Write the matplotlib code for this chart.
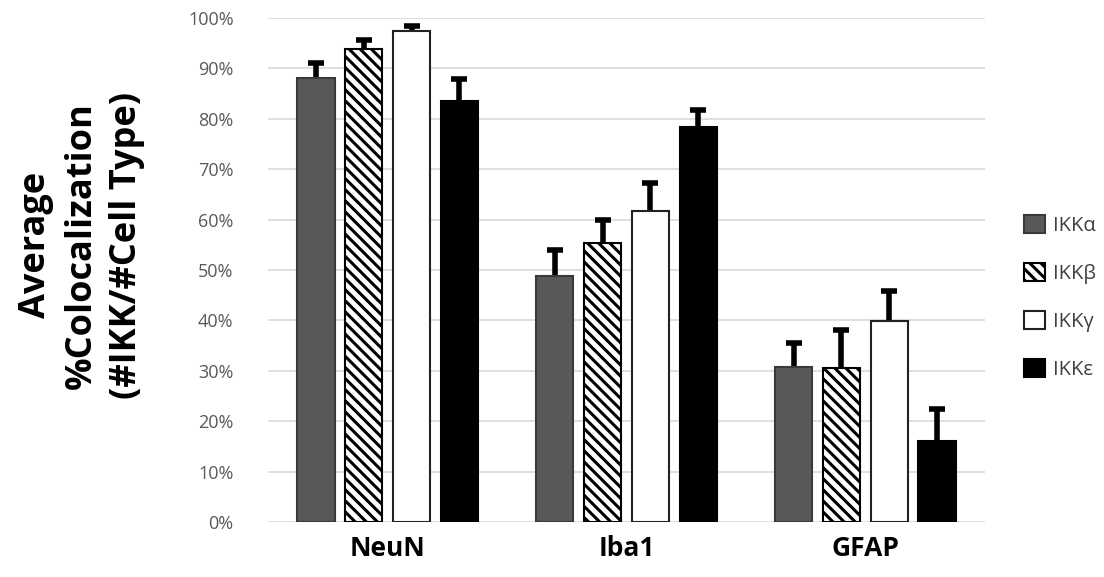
import matplotlib.pyplot as plt
import numpy as np

plt.rcParams['hatch.linewidth'] = 2.2

cell_types = ["NeuN", "Iba1", "GFAP"]
series = ["IKKα", "IKKβ", "IKKγ", "IKKε"]
alpha = [0.881, 0.488, 0.308]
beta = [0.938, 0.554, 0.306]
gamma = [0.974, 0.617, 0.399]
eps = [0.835, 0.784, 0.161]
alpha_err = [0.029, 0.052, 0.047]
beta_err = [0.018, 0.046, 0.075]
gamma_err = [0.010, 0.056, 0.059]
eps_err = [0.044, 0.033, 0.063]

fig = plt.figure(figsize=(11.04, 5.77), dpi=100)
ax = fig.add_axes([0.243, 0.0953, 0.649, 0.8737])

x = np.arange(len(cell_types))
w = 0.156
offsets = [-0.3, -0.1, 0.1, 0.3]
styles = [
    dict(color="#595959", edgecolor="#3a3a3a", hatch=None),
    dict(color="white", edgecolor="black", hatch="\\\\\\"),
    dict(color="white", edgecolor="#222222", hatch=None),
    dict(color="black", edgecolor="black", hatch=None),
]
vals = [alpha, beta, gamma, eps]
errs = [alpha_err, beta_err, gamma_err, eps_err]

for v, e, off, st, lab in zip(vals, errs, offsets, styles, series):
    ax.bar(x + off, v, w, color=st["color"], edgecolor=st["edgecolor"],
           hatch=st["hatch"], linewidth=1.5, label=lab, zorder=3)
    eb = ax.errorbar(x + off, v, yerr=[np.zeros(len(v)), e], fmt="none",
                     ecolor="black", elinewidth=4, capsize=6, capthick=4, zorder=2)
    # only the upper cap
    eb[1][0].set_visible(False)

ax.set_xlim(-0.5, 2.5)
ax.set_ylim(0, 1.0)
ticks = np.arange(0, 1.01, 0.1)
ax.set_yticks(ticks)
ax.set_yticklabels([f"{int(round(t*100))}%" for t in ticks],
                   fontsize=13, color="#595959", family="Open Sans")
ax.set_xticks(x)
ax.set_xticklabels(cell_types, fontsize=19, fontweight="bold", family="Open Sans")
ax.tick_params(length=0, axis="both")
ax.tick_params(axis="y", pad=25)
ax.tick_params(axis="x", pad=9)
ax.grid(axis="y", color="#d9d9d9", linewidth=1.2, zorder=0)
for s in ax.spines.values():
    s.set_visible(False)

fig.text(0.074, 0.575, "Average\n%Colocalization\n(#IKK/#Cell Type)", fontsize=26,
         fontweight="bold", family="Open Sans", linespacing=1.35,
         rotation=90, ha="center", va="center", multialignment="center")

leg = ax.legend(loc="center left", bbox_to_anchor=(1.03, 0.445), frameon=False,
                labelspacing=1.35, handlelength=1.0, handleheight=1.0,
                handletextpad=0.4, prop={"family": "Open Sans", "size": 14.5})
for t in leg.get_texts():
    t.set_color("#404040")

fig.savefig("out.png", dpi=100)
